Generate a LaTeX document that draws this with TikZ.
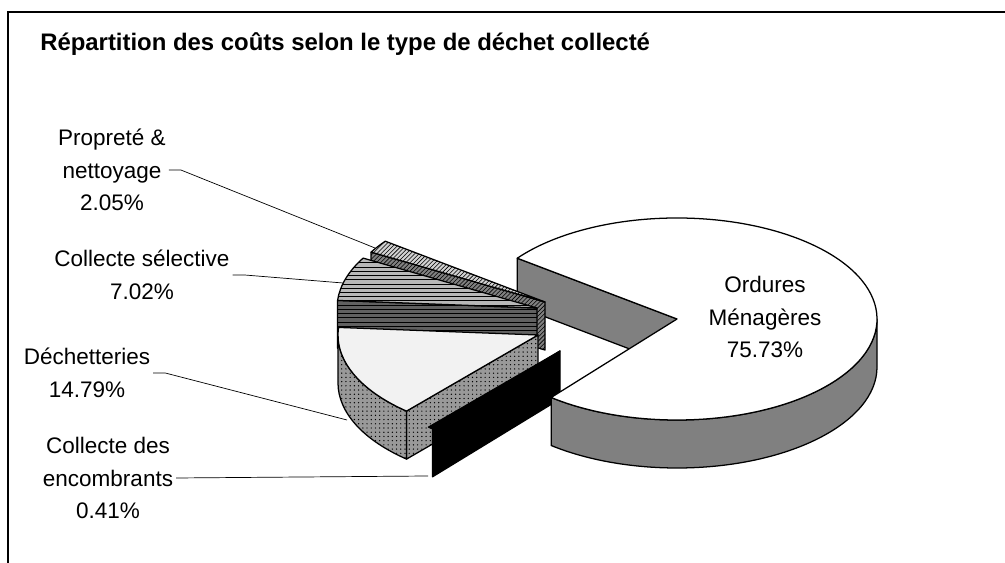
\documentclass[tikz,border=0pt]{standalone}
\usepackage{fontspec}
\setmainfont{Liberation Sans}
\usetikzlibrary{patterns}

\begin{document}
\begin{tikzpicture}[x=0.025cm,y=0.025cm,
  slice/.style={draw=black,line width=0.9pt,line join=round},
  pie/.style={x radius=200,y radius=101},
  lbl/.style={align=center,inner sep=0pt,font=\fontsize{16}{23.1}\selectfont},
  leader/.style={line width=0.5pt}]
\useasboundingbox (0,0) rectangle (1005,563);
\draw[line width=1.2pt] (8,0) -- (8,551) -- (1005,551);
\node[anchor=base west,inner sep=0pt,font=\fontsize{17}{20}\selectfont\bfseries] (title) at (40,512) {Répartition des coûts selon le type de déchet collecté};

\coordinate (om) at (677,244);
\coordinate (pn) at (545,261);
\coordinate (cs) at (537,255);
\coordinate (dc) at (538,228);
\coordinate (ce) at (560,212);

\filldraw[slice,fill=black!50] (om) -- ++(143:200 and 101) -- ++(0,-48) -- ++(323:200 and 101) -- cycle;

\filldraw[slice,fill=black!50,postaction={pattern=north east lines}] (pn) -- ++(150.4:200 and 101) -- ++(0,-48) -- ++(330.4:200 and 101) -- cycle;
\filldraw[slice,fill=black!18,postaction={pattern=north east lines}] (pn) -- ++(143:200 and 101) arc[pie,start angle=143,end angle=150.4] -- cycle;

\filldraw[slice,fill=black!62,postaction={pattern=horizontal lines}] (cs) -- ++(175.7:200 and 101) -- ++(0,-48) -- ++(355.7:200 and 101) -- cycle;
\filldraw[slice,fill=black!28,postaction={pattern=horizontal lines}] (cs) -- ++(150.4:200 and 101) arc[pie,start angle=150.4,end angle=175.7] -- cycle;

\filldraw[slice,fill=black!40,postaction={pattern=dots}] (dc) -- ++(228.9:200 and 101) -- ++(0,-48) -- ++(48.9:200 and 101) -- cycle;
\filldraw[slice,fill=black!40,postaction={pattern=dots}] (dc) ++(180:200 and 101) arc[pie,start angle=180,end angle=228.9] -- ++(0,-48) arc[pie,start angle=228.9,end angle=180] -- cycle;
\filldraw[slice,fill=black!5] (dc) -- ++(175.7:200 and 101) arc[pie,start angle=175.7,end angle=228.9] -- cycle;

\filldraw[slice,fill=black] (ce) -- ++(228.9:200 and 101) arc[pie,start angle=228.9,end angle=230.4] -- cycle;
\filldraw[slice,fill=black] (ce) -- ++(230.4:200 and 101) -- ++(0,-48) -- ++(50.4:200 and 101) -- cycle;

\filldraw[slice,fill=black!50] (om) ++(231:200 and 101) arc[pie,start angle=231,end angle=360] -- ++(0,-48) arc[pie,start angle=360,end angle=231] -- cycle;
\filldraw[slice,fill=white] (om) -- ++(231:200 and 101) arc[pie,start angle=231,end angle=503] -- cycle;

\node[lbl] (lom) at (765,246) {Ordures\\Ménagères\\75.73\%};
\node[lbl] (lpn) at (112,393) {Propreté \&\\nettoyage\\2.05\%};
\node[lbl] (lcs) at (142,288) {Collecte sélective\\7.02\%};
\node[lbl] (ldc) at (87,190) {Déchetteries\\14.79\%};
\node[lbl] (lce) at (108,85) {Collecte des\\encombrants\\0.41\%};

\coordinate (tpn) at (375,315);
\coordinate (tcs) at (343,280);
\coordinate (tdc) at (347,143);
\coordinate (tce) at (428,87);
\draw[leader] ([xshift=2pt]lpn.east) -- ++(12,0) -- (tpn);
\draw[leader] ([xshift=2pt]lcs.east) -- ++(12,0) -- (tcs);
\draw[leader] ([xshift=2pt]ldc.east) -- ++(12,0) -- (tdc);
\draw[leader] ([xshift=2pt]lce.east) -- (tce);
\end{tikzpicture}
\end{document}
